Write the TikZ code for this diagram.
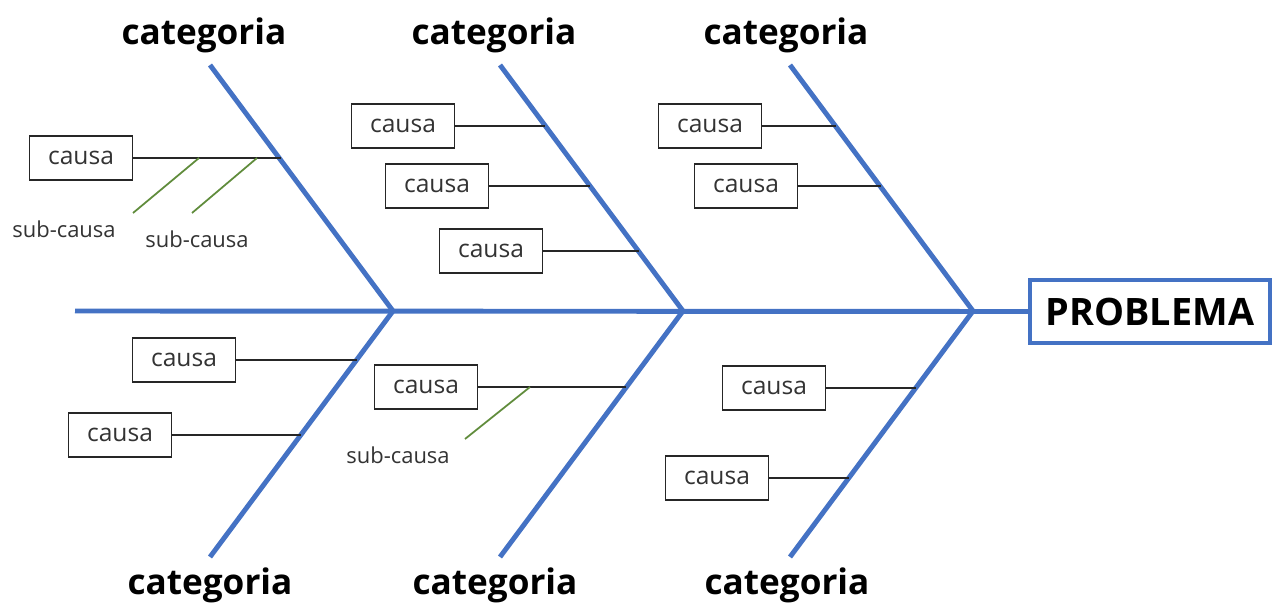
\documentclass[tikz,border=0pt]{standalone}
\usepackage{fontspec}
\setmainfont{Open Sans}
\usetikzlibrary{positioning}
\definecolor{boneblue}{RGB}{68,114,196}
\definecolor{subgreen}{RGB}{96,140,60}
\definecolor{txtgray}{RGB}{51,51,51}

\begin{document}
\begin{tikzpicture}[x=0.02cm, y=-0.02cm,
  bone/.style={draw=boneblue, line width=2.8pt},
  causebox/.style={rectangle, draw=black!85, line width=1pt, minimum width=2.06cm, minimum height=0.88cm, inner sep=0pt, text=txtgray, font=\fontsize{14}{16}\selectfont},
  problem/.style={rectangle, draw=boneblue, line width=2.3pt, minimum width=4.8cm, minimum height=1.26cm, inner sep=0pt, font=\bfseries\fontsize{21.5}{24}\selectfont},
  catlabel/.style={font=\bfseries\fontsize{20}{24}\selectfont},
  sublabel/.style={text=txtgray, font=\fontsize{12.5}{14}\selectfont},
  link/.style={draw=black!85, line width=1pt},
  sublink/.style={draw=subgreen, line width=1pt}
]
\useasboundingbox (0,0) rectangle (1272,607);

% --------- SPINE ----------
\node[problem] (P) at (1150,311.5) {PROBLEMA};
\coordinate (S) at (75,311);
\coordinate (J1) at (393,311);
\coordinate (J2) at (683,311);
\coordinate (J3) at (973,311);
\draw[bone] (S) -- (P.west);

% bone ends
\coordinate (T1) at (210,65);
\coordinate (T2) at (500,65);
\coordinate (T3) at (790,65);
\coordinate (B1) at (210,557);
\coordinate (B2) at (500,557);
\coordinate (B3) at (790,557);
\draw[bone] (T1) -- (J1) -- (B1);
\draw[bone] (T2) -- (J2) -- (B2);
\draw[bone] (T3) -- (J3) -- (B3);

% categories
\node[catlabel] (catT1) at (204,35) {categoria};
\node[catlabel] (catT2) at (494,35) {categoria};
\node[catlabel] (catT3) at (786,35) {categoria};
\node[catlabel] (catB1) at (210,585) {categoria};
\node[catlabel] (catB2) at (495,585) {categoria};
\node[catlabel] (catB3) at (787,585) {categoria};

% --------- UPPER CAUSES ----------
\node[causebox] (c11) at (81,158) {causa};
\coordinate (k11) at (281,158);
\draw[link] (c11) -- (k11);
\coordinate (m1) at (199,158);
\coordinate (m2) at (257,158);
\coordinate (e1) at (133,213);
\coordinate (e2) at (192,213);
\draw[sublink] (m1) -- (e1);
\draw[sublink] (m2) -- (e2);
\node[sublabel] (s1) at (64,229) {sub-causa};
\node[sublabel] (s2) at (197,239) {sub-causa};

\node[causebox] (c21) at (403,126) {causa};
\node[causebox] (c22) at (437,186) {causa};
\node[causebox] (c23) at (491,251) {causa};
\coordinate (k21) at (545,126);
\coordinate (k22) at (590,186);
\coordinate (k23) at (639,251);
\draw[link] (c21) -- (k21);
\draw[link] (c22) -- (k22);
\draw[link] (c23) -- (k23);

\node[causebox] (c31) at (710,126) {causa};
\node[causebox] (c32) at (746,186) {causa};
\coordinate (k31) at (836,126);
\coordinate (k32) at (881,186);
\draw[link] (c31) -- (k31);
\draw[link] (c32) -- (k32);

% --------- LOWER CAUSES ----------
\node[causebox] (d11) at (184,360) {causa};
\node[causebox] (d12) at (120,435) {causa};
\coordinate (q11) at (357,360);
\coordinate (q12) at (301,435);
\draw[link] (d11) -- (q11);
\draw[link] (d12) -- (q12);

\node[causebox] (d21) at (426,387) {causa};
\coordinate (q21) at (626,387);
\draw[link] (d21) -- (q21);
\coordinate (m3) at (530,387);
\coordinate (e3) at (465,439);
\draw[sublink] (m3) -- (e3);
\node[sublabel] (s3) at (398,455) {sub-causa};

\node[causebox] (d31) at (774,388) {causa};
\node[causebox] (d32) at (717,478) {causa};
\coordinate (q31) at (916,388);
\coordinate (q32) at (849,478);
\draw[link] (d31) -- (q31);
\draw[link] (d32) -- (q32);

\end{tikzpicture}
\end{document}
